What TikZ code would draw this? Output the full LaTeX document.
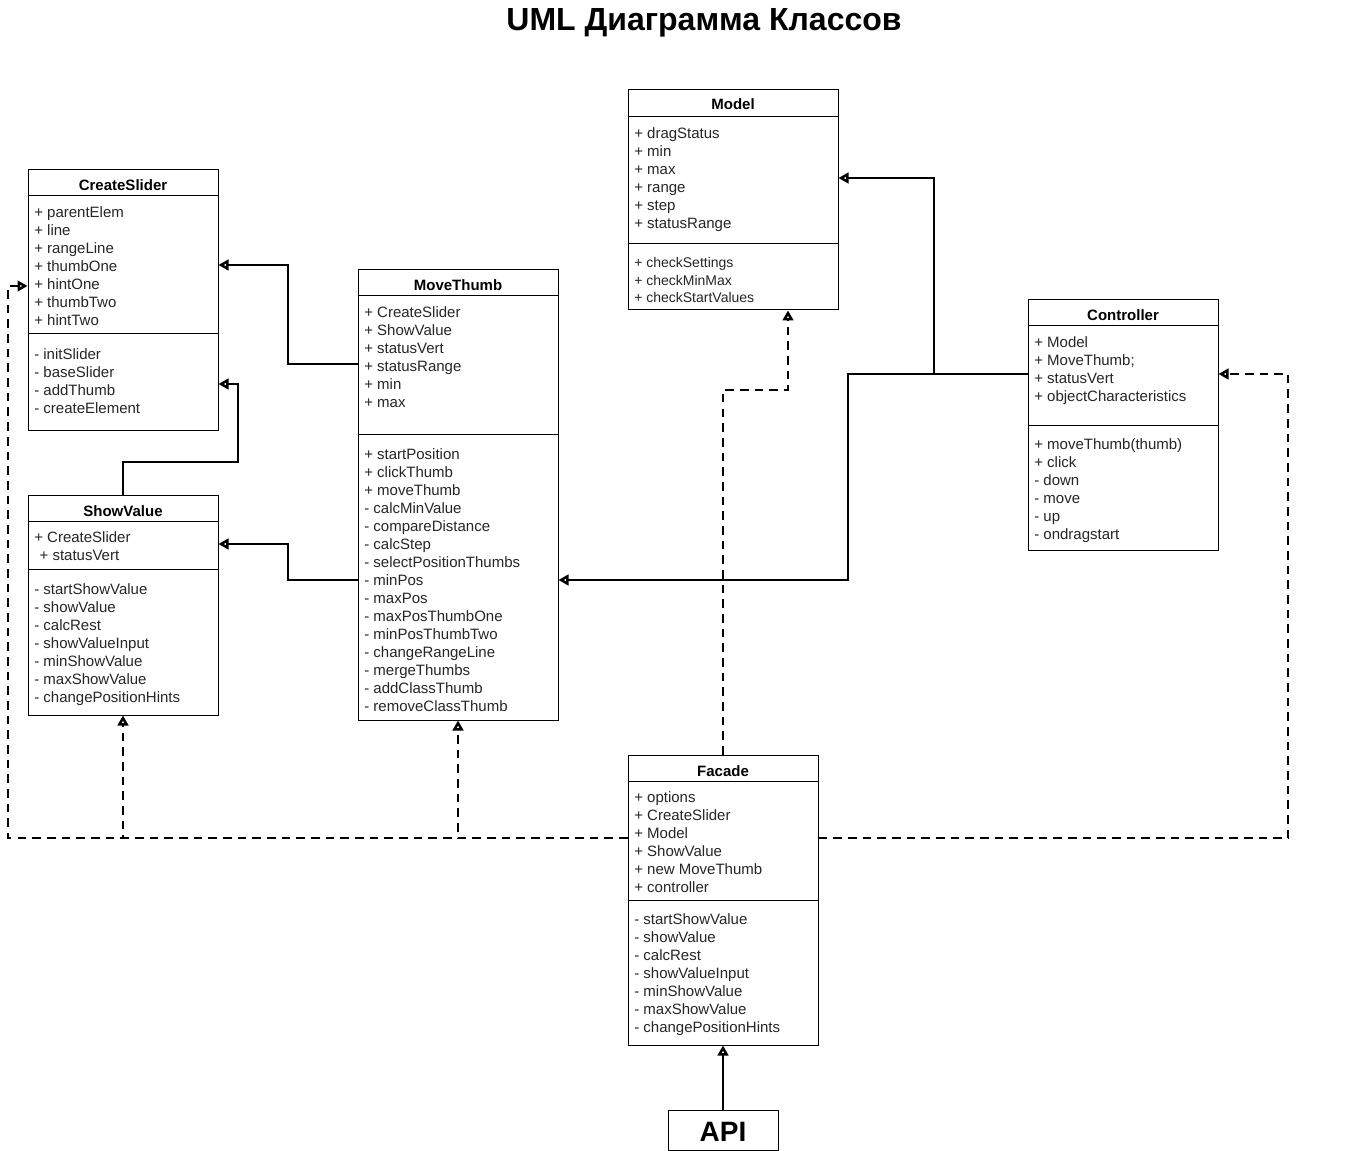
\documentclass[tikz,border=0pt]{standalone}
\usepackage{fontspec}
\setmainfont{Liberation Sans}
\usetikzlibrary{arrows.meta,fit}
\newcommand\clsitems[5]{\foreach \t [count=\i] in {#5} {\node[txt] (#1\i) at (#2,{#3+#4*(\i-1)}) {\t};}}
\begin{document}
\begin{tikzpicture}[x=0.75pt,y=-0.75pt,
  txt/.style={anchor=base west,inner sep=0pt,font=\fontsize{11.25}{13}\selectfont,text=black!85},
  smalltxt/.style={txt,font=\fontsize{10.5}{12}\selectfont},
  ctitle/.style={anchor=base,inner sep=0pt,font=\bfseries\fontsize{11.25}{13}\selectfont},
  classbox/.style={draw,line width=0.75pt,inner sep=0pt,fill=white},
  sepline/.style={line width=0.75pt},
  conn/.style={line width=2.2pt,-{Triangle[open,length=7.5pt,width=8pt]}},
  dconn/.style={conn,dash pattern=on 6.5pt off 4.5pt}]
\useasboundingbox (0,0) rectangle (1369,1151);
\node[anchor=base,inner sep=0pt,font=\bfseries\fontsize{24}{28}\selectfont] (title) at (704,31) {UML Диаграмма Классов};

% CreateSlider
\node[classbox,fit={(28,170) (218,430)}] (cs) {};
\node[ctitle] (cst) at (123,191) {CreateSlider};
\draw[sepline] (cs.west |- 0,196) -- (cs.east |- 0,196);
\draw[sepline] (cs.west |- 0,334) -- (cs.east |- 0,334);
\clsitems{csa}{34}{217.5}{18}{+ parentElem,+ line,+ rangeLine,+ thumbOne,+ hintOne,+ thumbTwo,+ hintTwo}
\clsitems{csm}{34}{359.5}{18}{- initSlider,- baseSlider,- addThumb,- createElement}

% MoveThumb
\node[classbox,fit={(358,270) (558,720)}] (mt) {};
\node[ctitle] (mtt) at (458,291) {MoveThumb};
\draw[sepline] (mt.west |- 0,296) -- (mt.east |- 0,296);
\draw[sepline] (mt.west |- 0,434) -- (mt.east |- 0,434);
\clsitems{mta}{364}{317.5}{18}{+ CreateSlider,+ ShowValue,+ statusVert,+ statusRange,+ min,+ max}
\clsitems{mtm}{364}{459.5}{18}{+ startPosition,+ clickThumb,+ moveThumb,- calcMinValue,- compareDistance,- calcStep,- selectPositionThumbs,- minPos,- maxPos,- maxPosThumbOne,- minPosThumbTwo,- changeRangeLine,- mergeThumbs,- addClassThumb,- removeClassThumb}

% Model
\node[classbox,fit={(628,90) (838,310)}] (mdl) {};
\node[ctitle] (mdlt) at (733,110) {Model};
\draw[sepline] (mdl.west |- 0,117) -- (mdl.east |- 0,117);
\draw[sepline] (mdl.west |- 0,244) -- (mdl.east |- 0,244);
\clsitems{mda}{634}{138.5}{18}{+ dragStatus,+ min,+ max,+ range,+ step,+ statusRange}
\foreach \t [count=\i] in {+ checkSettings,+ checkMinMax,+ checkStartValues} {\node[smalltxt] (mdm\i) at (634,{268+17.5*(\i-1)}) {\t};}

% Controller
\node[classbox,fit={(1028,300) (1218,550)}] (ctl) {};
\node[ctitle] (ctlt) at (1123,321) {Controller};
\draw[sepline] (ctl.west |- 0,326) -- (ctl.east |- 0,326);
\draw[sepline] (ctl.west |- 0,425) -- (ctl.east |- 0,425);
\clsitems{cta}{1034}{347.5}{18}{+ Model,{+ MoveThumb;},+ statusVert,+ objectCharacteristics}
\clsitems{ctm}{1034}{449.5}{18}{{+ moveThumb(thumb)},+ click,- down,- move,- up,- ondragstart}

% ShowValue
\node[classbox,fit={(28,495) (218,715)}] (sv) {};
\node[ctitle] (svt) at (123,516) {ShowValue};
\draw[sepline] (sv.west |- 0,521) -- (sv.east |- 0,521);
\draw[sepline] (sv.west |- 0,569) -- (sv.east |- 0,569);
\clsitems{sva}{34}{542.5}{18}{+ CreateSlider,\hspace*{4pt}+ statusVert}
\clsitems{svm}{34}{594.5}{18}{- startShowValue,- showValue,- calcRest,- showValueInput,- minShowValue,- maxShowValue,- changePositionHints}

% Facade
\node[classbox,fit={(628,755) (818,1045)}] (fac) {};
\node[ctitle] (fact) at (723,776) {Facade};
\draw[sepline] (fac.west |- 0,781) -- (fac.east |- 0,781);
\draw[sepline] (fac.west |- 0,900) -- (fac.east |- 0,900);
\clsitems{faa}{634}{802.5}{18}{+ options,+ CreateSlider,+ Model,+ ShowValue,+ new MoveThumb,+ controller}
\clsitems{fam}{634}{924.5}{18}{- startShowValue,- showValue,- calcRest,- showValueInput,- minShowValue,- maxShowValue,- changePositionHints}

% API
\node[classbox,fit={(668,1110) (778,1150)}] (api) {};
\node[anchor=base,inner sep=0pt,font=\bfseries\fontsize{21}{25}\selectfont] (apit) at (723,1141) {API};

% solid connectors
\draw[conn] (mt.west |- 0,364) -- (288,364) |- (cs.east |- 0,265);
\draw[conn] (sv.north) |- (238,462) |- (cs.east |- 0,384);
\draw[conn] (mt.west |- 0,580) -- (288,580) |- (sv.east |- 0,544);
\draw[conn] (ctl.west |- 0,374) -- (848,374) |- (mt.east |- 0,580);
\draw[conn] (ctl.west |- 0,374) -- (934,374) |- (mdl.east |- 0,178);
\draw[conn] (api.north) -- (fac.south);

% dashed connectors
\draw[dconn] (fac.north) |- (788,390) -- (788,0 |- mdl.south);
\draw[dconn] (fac.west |- 0,838) -- (8,838) |- (cs.west |- 0,286);
\draw[dconn] (fac.west |- 0,838) -- (123,838) -- (sv.south);
\draw[dconn] (fac.west |- 0,838) -| (mt.south);
\draw[dconn] (fac.east |- 0,838) -- (1288,838) |- (ctl.east |- 0,374);
\end{tikzpicture}
\end{document}
